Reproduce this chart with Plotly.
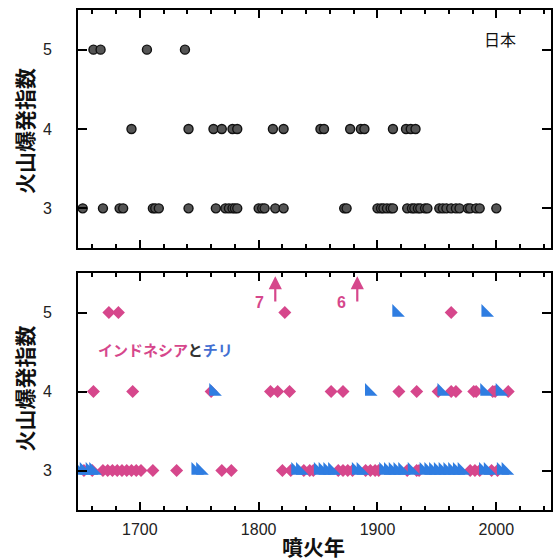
import plotly.graph_objects as go

# ---------------- data ----------------
japan_vei5 = [1661, 1667, 1706, 1738]
japan_vei4 = [1693, 1741, 1762, 1769, 1778, 1782, 1812, 1821, 1852, 1855, 1877,
              1886, 1889, 1913, 1924, 1928, 1932]
japan_vei3 = [1652, 1669, 1683, 1686, 1711, 1713, 1716, 1741, 1764, 1772, 1775,
              1778, 1780, 1782, 1800, 1803, 1805, 1814, 1821, 1872, 1874, 1900,
              1903, 1905, 1908, 1911, 1913, 1925, 1929, 1931, 1934, 1936, 1940,
              1942, 1952, 1955, 1958, 1962, 1966, 1969, 1976, 1978, 1983, 1986, 2000]

indonesia_vei5 = [1674, 1682, 1822, 1962]
indonesia_vei4 = [1661, 1694, 1760, 1810, 1816, 1826, 1861, 1871, 1918, 1933,
                  1951, 1962, 1966, 1981, 1983, 1997, 1999, 2010]
indonesia_vei3 = [1653, 1660, 1669, 1673, 1677, 1681, 1685, 1689, 1693, 1697,
                  1701, 1711, 1731, 1769, 1777, 1820, 1827, 1838, 1843, 1846,
                  1867, 1871, 1875, 1879, 1890, 1894, 1898, 1901, 1925, 1933,
                  1935, 1978, 1982, 1986, 1996, 2001]

chile_vei5 = [1916, 1991]
chile_vei4 = [1762, 1893, 1954, 1990, 2003]
chile_vei3 = [1649, 1653, 1658, 1661, 1747, 1751, 1831, 1835, 1850, 1854,
              1858, 1862, 1882, 1886, 1905, 1909, 1913, 1917, 1921, 1929,
              1939, 1943, 1947, 1951, 1955, 1959, 1963, 1967, 1971, 1989,
              1993, 2004, 2008]

big_events_years = [1814, 1883]
big_events_labels = ["7", "6"]

x_ticks = [1700, 1800, 1900, 2000]
y_ticks = [3, 4, 5]


def flatten(v5, v4, v3):
    xs = list(v5) + list(v4) + list(v3)
    ys = [5] * len(v5) + [4] * len(v4) + [3] * len(v3)
    return xs, ys


PINK = "#D6478C"
BLUE = "#2F7DE1"
NUMFONT = "Liberation Sans, Arial, sans-serif"
JPFONT = "Noto Sans CJK JP, sans-serif"

fig = go.Figure()

jx, jy = flatten(japan_vei5, japan_vei4, japan_vei3)
fig.add_trace(go.Scatter(x=jx, y=jy, mode="markers", xaxis="x2", yaxis="y2",
                         marker=dict(symbol="circle", size=9, color="#555555",
                                     line=dict(color="#111111", width=1.4)),
                         showlegend=False))

ix, iy = flatten(indonesia_vei5, indonesia_vei4, indonesia_vei3)
cx, cy = flatten(chile_vei5, chile_vei4, chile_vei3)

fig.add_trace(go.Scatter(x=ix, y=iy, mode="markers", xaxis="x", yaxis="y",
                         marker=dict(symbol="diamond", size=10, color=PINK,
                                     line=dict(width=0)),
                         showlegend=False))
fig.add_trace(go.Scatter(x=cx, y=cy, mode="markers", xaxis="x", yaxis="y",
                         marker=dict(symbol="triangle-sw", size=14, color=BLUE,
                                     line=dict(width=0)),
                         showlegend=False))

xcommon = dict(range=[1648, 2046], tickmode="array", tickvals=x_ticks,
               ticks="inside", ticklen=8, tickwidth=2, tickcolor="black",
               showline=True, linewidth=2, linecolor="black", mirror="allticks",
               showgrid=False, zeroline=False, automargin=False,
               minor=dict(dtick=20, tick0=1700, ticks="inside", ticklen=4,
                          tickwidth=1.5, tickcolor="black", showgrid=False),
               tickfont=dict(family=NUMFONT, size=16, color="#222"))
ycommon = dict(range=[2.5, 5.5], tickmode="array", tickvals=y_ticks,
               ticks="inside", ticklen=9, tickwidth=2, tickcolor="black",
               showline=True, linewidth=2, linecolor="black", mirror="allticks",
               showgrid=False, zeroline=False, ticklabelstandoff=21,
               automargin=False,
               tickfont=dict(family=NUMFONT, size=16, color="#222"))

fig.update_layout(
    width=555, height=559,
    margin=dict(l=78, r=4, t=10, b=49),
    paper_bgcolor="white", plot_bgcolor="white",
    xaxis=dict(**xcommon, domain=[0, 1], anchor="y", ticklabelstandoff=4),
    yaxis=dict(**ycommon, domain=[0, 0.474], anchor="x"),
    xaxis2=dict(**xcommon, domain=[0, 1], anchor="y2", showticklabels=False),
    yaxis2=dict(**ycommon, domain=[0.524, 1.0], anchor="x2"),
)

ann = []
# y titles
for ycen in [0.524 + (1 - 0.524) / 2 - 0.005, 0.474 / 2 + 0.005]:
    ann.append(dict(text="<b>火山爆発指数</b>", xref="paper", yref="paper",
                    x=-0.115, y=ycen, xanchor="center", yanchor="middle",
                    textangle=-90, showarrow=False,
                    font=dict(family=JPFONT, size=21, color="#111")))
# x title
ann.append(dict(text="<b>噴火年</b>", xref="paper", yref="paper", x=0.497, y=-0.072,
                xanchor="center", yanchor="middle", showarrow=False,
                font=dict(family=JPFONT, size=21, color="#111")))
# 日本
ann.append(dict(text="日本", xref="x2", yref="y2", x=2003, y=5.13,
                xanchor="center", yanchor="middle", showarrow=False,
                font=dict(family=JPFONT, size=16, color="#111")))
# インドネシアとチリ
ann.append(dict(text=f"<span style='color:{PINK}'><b>インドネシア</b></span>"
                     f"<span style='color:#333'><b>と</b></span>"
                     f"<span style='color:#4470D2'><b>チリ</b></span>",
                xref="x", yref="y", x=1722, y=4.53, xanchor="center",
                yanchor="middle", showarrow=False,
                font=dict(family=JPFONT, size=15)))
# arrows for VEI 7 / 6
for yr, lab in zip(big_events_years, big_events_labels):
    ann.append(dict(text="", xref="x", yref="y", x=yr, y=5.46,
                    axref="x", ayref="y", ax=yr, ay=5.12, showarrow=True,
                    arrowhead=2, arrowsize=1.2, arrowwidth=2.2, arrowcolor=PINK))
    ann.append(dict(text=f"<b>{lab}</b>", xref="x", yref="y", x=yr - 13, y=5.13,
                    xanchor="center", yanchor="middle", showarrow=False,
                    font=dict(family=NUMFONT, size=16, color=PINK)))

fig.update_layout(annotations=ann)

fig.write_html("out.html",
               config={"displayModeBar": False},
               post_script="document.body.style.margin='0px';"
                           "document.body.style.padding='0px';")
